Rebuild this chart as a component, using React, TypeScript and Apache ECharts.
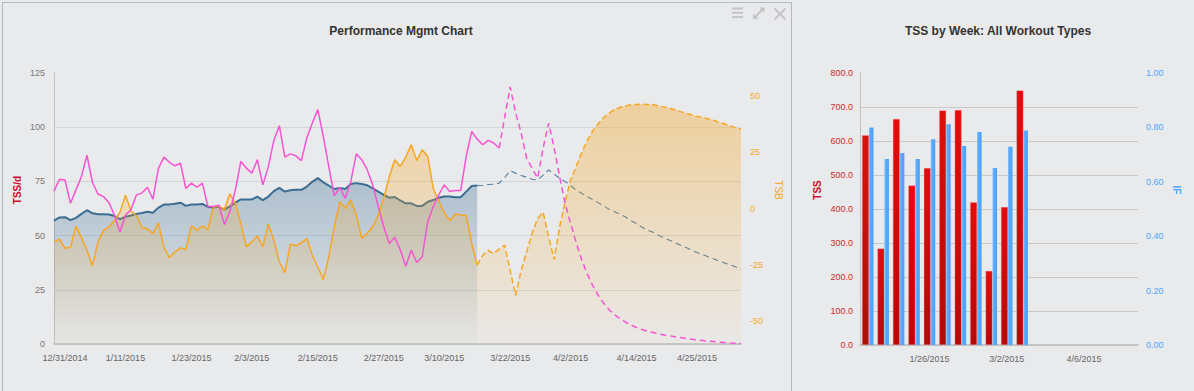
import React, { useEffect, useRef } from 'react';
import * as echarts from 'echarts';

// ---------- Performance Mgmt Chart data (daily, starting 12/29/2014) ----------
const START_YEAR = 2014;
const START_MONTH = 11; // December (0-based)
const START_DAY = 29;
const DAY_COUNT = 126;

const fmtDate = (d: Date) => `${d.getMonth() + 1}/${d.getDate()}/${d.getFullYear()}`;
const days: string[] = [];
for (let i = 0; i < DAY_COUNT; i++) {
  days.push(fmtDate(new Date(START_YEAR, START_MONTH, START_DAY + i)));
}

const dayTickLabels = [
  '12/31/2014', '1/11/2015', '1/23/2015', '2/3/2015', '2/15/2015', '2/27/2015',
  '3/10/2015', '3/22/2015', '4/2/2015', '4/14/2015', '4/25/2015',
];

// Fitness (CTL) – TSS/d
const ctl = [
  56.9, 58.4, 58.5, 57.1, 58.2, 60.0, 61.7, 60.3, 59.8, 59.8,
  59.7, 59.0, 57.6, 58.7, 59.3, 60.0, 60.4, 61.0, 60.5, 62.9,
  64.3, 64.4, 64.7, 65.2, 63.7, 64.3, 64.3, 64.6, 63.2, 63.0,
  63.3, 62.0, 63.5, 65.2, 66.7, 66.7, 66.7, 68.0, 66.4, 68.0,
  70.5, 72.0, 70.3, 70.9, 71.1, 71.1, 72.6, 74.8, 76.5, 74.6,
  73.1, 71.5, 72.0, 71.5, 73.8, 74.2, 73.8, 73.2, 71.8, 70.3,
  68.8, 67.5, 67.8, 66.2, 64.9, 64.9, 63.7, 63.7, 65.6, 66.4,
  67.5, 68.0, 68.0, 67.7, 67.7, 70.3, 72.9, 73.1, 73.2, 73.6,
  73.7, 74.2, 76.8, 79.9, 78.8, 77.7, 76.9, 76.0, 75.6, 77.9,
  80.3, 78.3, 76.5, 74.9, 73.1, 71.0, 69.5, 68.0, 66.7, 65.2,
  63.7, 62.1, 61.0, 59.8, 58.6, 56.9, 55.5, 53.8, 52.5, 51.5,
  50.2, 49.0, 47.9, 46.7, 45.6, 44.5, 43.3, 42.2, 41.3, 40.2,
  39.3, 38.3, 37.4, 36.5, 35.6, 34.4,
];

// Fatigue (ATL) – TSS/d
const atl = [
  70.5, 76.0, 75.7, 64.9, 71.1, 77.3, 87.1, 74.5, 69.2, 68.0,
  65.2, 59.4, 51.5, 59.5, 61.9, 68.8, 69.6, 72.3, 66.8, 81.0,
  86.2, 83.8, 82.2, 83.4, 71.7, 74.2, 72.3, 74.2, 63.4, 63.4,
  64.0, 55.1, 61.0, 71.1, 84.2, 81.1, 78.8, 85.0, 73.4, 81.8,
  93.9, 100.7, 86.2, 87.7, 86.8, 84.6, 95.0, 101.9, 108.1, 95.7,
  81.8, 68.3, 72.2, 67.2, 74.9, 87.7, 85.0, 80.3, 73.4, 63.3,
  54.1, 46.4, 49.2, 43.5, 35.9, 43.3, 37.6, 40.2, 56.4, 63.3,
  68.8, 73.4, 70.3, 70.8, 70.8, 86.5, 98.1, 94.5, 91.9, 93.9,
  92.7, 90.4, 104.5, 118.6, 106.6, 97.3, 85.7, 81.1, 76.5, 90.4,
  101.9, 90.4, 77.2, 64.9, 55.6, 46.8, 39.0, 32.5, 27.1, 22.5,
  18.9, 15.8, 13.5, 11.7, 10.1, 8.7, 7.6, 6.7, 5.9, 5.3,
  4.7, 4.2, 3.8, 3.3, 3.0, 2.5, 2.2, 1.9, 1.6, 1.3,
  1.2, 0.8, 0.7, 0.5, 0.4, 0.2,
];

// Form (TSB)
const tsb = [
  -14.8, -13.6, -17.6, -17.1, -7.8, -13.0, -18.5, -25.3, -14.8, -9.7,
  -8.1, -5.4, -1.6, 5.9, -1.0, -3.2, -8.4, -9.0, -11.0, -6.3,
  -17.4, -21.7, -19.2, -17.4, -18.2, -7.6, -9.7, -7.8, -9.3, 0.5,
  1.1, -0.4, 6.5, 2.3, -6.6, -17.0, -14.8, -12.2, -17.0, -6.9,
  -14.0, -23.7, -28.4, -15.8, -16.5, -15.2, -13.3, -20.7, -25.9, -31.5,
  -21.4, -8.1, 3.0, 0.1, 3.8, -2.9, -13.3, -11.0, -8.1, -2.9,
  4.5, 14.1, 21.6, 18.6, 22.8, 28.2, 21.3, 26.0, 23.0, 9.0,
  3.3, -1.9, -5.4, -2.4, -2.9, -3.0, -15.5, -25.1, -20.7, -18.6,
  -20.0, -18.0, -16.2, -27.4, -38.6, -27.4, -19.2, -11.0, -4.4, -1.7,
  -12.5, -22.6, -8.1, 3.0, 12.7, 18.5, 24.6, 30.0, 34.2, 37.5,
  40.1, 42.2, 43.8, 44.8, 45.4, 45.9, 46.1, 46.2, 46.1, 45.9,
  45.4, 45.0, 44.4, 43.7, 42.9, 42.2, 41.5, 40.8, 40.3, 39.7,
  39.1, 38.2, 37.5, 36.6, 35.8, 35.2,
];

const CTL_LAST_ACTUAL = 77;
const TSB_LAST_ACTUAL = 77;
const ATL_LAST_ACTUAL = 81;

const tssAxisTicks = [0, 25, 50, 75, 100, 125];
const tsbAxisTicks = [-50, -25, 0, 25, 50];

// ---------- TSS by Week data ----------
const WEEK_COUNT = 18;
const weeks: string[] = [];
for (let i = 0; i < WEEK_COUNT; i++) {
  weeks.push(fmtDate(new Date(START_YEAR, START_MONTH, START_DAY + i * 7)));
}
const weekTickLabels = ['1/26/2015', '3/2/2015', '4/6/2015'];
const weeklyTss = [617, 284, 665, 469, 521, 690, 691, 420, 218, 406, 749];
const weeklyIf = [0.80, 0.684, 0.706, 0.684, 0.756, 0.812, 0.732, 0.783, 0.651, 0.729, 0.789];

const FONT = '"Liberation Sans", Arial, Helvetica, sans-serif';
const BG = '#e9eaec';

const solidPart = (arr: number[], last: number) => arr.map((v, i) => (i <= last ? v : null));
const dashedPart = (arr: number[], last: number) => arr.map((v, i) => (i >= last ? v : null));

export default function App() {
  const ref = useRef<HTMLDivElement>(null);

  useEffect(() => {
    if (!ref.current) return;
    const chart = echarts.init(ref.current, undefined, { renderer: 'svg' });

    const gridTop = 73;
    const gridBottomY = 344;

    const blueFill = new echarts.graphic.LinearGradient(0, gridTop, 0, gridBottomY, [
      { offset: 0, color: 'rgba(59,109,147,0.55)' },
      { offset: 1, color: 'rgba(59,109,147,0.02)' },
    ], true);
    const orangeFill = () => new echarts.graphic.LinearGradient(0, gridTop, 0, gridBottomY, [
      { offset: 0, color: 'rgba(246,166,35,0.44)' },
      { offset: 1, color: 'rgba(246,166,35,0.03)' },
    ], true);
    const redBar = new echarts.graphic.LinearGradient(0, 0, 0, 1, [
      { offset: 0, color: '#e40c0c' },
      { offset: 1, color: '#b50909' },
    ]);
    const blueBar = new echarts.graphic.LinearGradient(0, 0, 1, 0, [
      { offset: 0, color: '#7cc0ff' },
      { offset: 0.35, color: '#57aaff' },
      { offset: 1, color: '#4a9ff5' },
    ]);

    const labelStyle = { color: '#666', fontSize: 9, fontFamily: FONT };
    const iconColor = '#c3c4c6';

    chart.setOption({
      animation: false,
      backgroundColor: BG,
      textStyle: { fontFamily: FONT },
      title: [
        {
          text: 'Performance Mgmt Chart',
          left: 396,
          top: 20,
          textAlign: 'center',
          textStyle: { fontSize: 12, fontWeight: 'bold', color: '#333', fontFamily: FONT },
        },
        {
          text: 'TSS by Week: All Workout Types',
          left: 993,
          top: 20,
          textAlign: 'center',
          textStyle: { fontSize: 12, fontWeight: 'bold', color: '#333', fontFamily: FONT },
        },
      ],
      grid: [
        { left: 54, width: 687, top: gridTop, height: gridBottomY - gridTop },
        { left: 860, width: 278, top: gridTop, height: 272 },
      ],
      xAxis: [
        {
          type: 'category',
          gridIndex: 0,
          data: days,
          boundaryGap: false,
          axisTick: { show: false },
          axisLine: { lineStyle: { color: '#bdbdbd', width: 1.5 } },
          axisLabel: {
            ...labelStyle,
            margin: 9,
            interval: (_i: number, v: string) => dayTickLabels.includes(v),
          },
          splitLine: { show: false },
        },
        {
          type: 'category',
          gridIndex: 1,
          data: weeks,
          boundaryGap: true,
          axisTick: { show: false },
          axisLine: { lineStyle: { color: '#bdbdbd', width: 1.5 } },
          axisLabel: {
            ...labelStyle,
            margin: 9,
            interval: (_i: number, v: string) => weekTickLabels.includes(v),
          },
        },
      ],
      yAxis: [
        {
          type: 'value',
          gridIndex: 0,
          min: tssAxisTicks[0],
          max: tssAxisTicks[tssAxisTicks.length - 1],
          interval: 25,
          axisLine: { show: true, lineStyle: { color: '#c2c2c2' } },
          axisTick: { show: false },
          axisLabel: { color: '#777', fontSize: 9, fontFamily: FONT, margin: 9 },
          splitLine: { show: true, showMaxLine: false, lineStyle: { color: '#d4d5d7' } },
        },
        {
          type: 'value',
          gridIndex: 0,
          position: 'right',
          min: -60,
          max: 60,
          axisLine: { show: false },
          axisTick: { show: false },
          axisLabel: {
            color: '#f6a623',
            fontSize: 9,
            fontFamily: FONT,
            margin: 9,
            customValues: tsbAxisTicks,
          },
          splitLine: { show: false },
        },
        {
          type: 'value',
          gridIndex: 1,
          min: 0,
          max: 800,
          interval: 100,
          axisLine: { show: true, lineStyle: { color: '#c2c2c2' } },
          axisTick: { show: false },
          axisLabel: {
            color: '#cf2a2a',
            fontSize: 9,
            fontFamily: FONT,
            margin: 7,
            formatter: (v: number) => v.toFixed(1),
          },
          splitLine: { show: true, showMaxLine: false, lineStyle: { color: '#c9c9c9' } },
        },
        {
          type: 'value',
          gridIndex: 1,
          position: 'right',
          min: 0,
          max: 1,
          interval: 0.2,
          axisLine: { show: false },
          axisTick: { show: false },
          axisLabel: {
            color: '#4da6ff',
            fontSize: 9,
            fontFamily: FONT,
            margin: 8,
            formatter: (v: number) => v.toFixed(2),
          },
          splitLine: { show: false },
        },
      ],
      series: [
        {
          name: 'CTL',
          type: 'line',
          z: 1,
          xAxisIndex: 0,
          yAxisIndex: 0,
          data: solidPart(ctl, CTL_LAST_ACTUAL),
          symbol: 'none',
          lineStyle: { color: '#3b6d93', width: 2 },
          areaStyle: { color: blueFill, opacity: 1 },
        },
        {
          name: 'CTL planned',
          type: 'line',
          z: 1,
          xAxisIndex: 0,
          yAxisIndex: 0,
          data: dashedPart(ctl, CTL_LAST_ACTUAL),
          symbol: 'none',
          lineStyle: { color: '#4f7a9d', width: 1.1, type: [6, 4] },
        },
        {
          name: 'TSB',
          type: 'line',
          z: 2,
          xAxisIndex: 0,
          yAxisIndex: 1,
          data: solidPart(tsb, TSB_LAST_ACTUAL),
          symbol: 'none',
          lineStyle: { color: '#f6a623', width: 1.5 },
          areaStyle: { color: orangeFill(), origin: 'start', opacity: 1 },
        },
        {
          name: 'TSB planned',
          type: 'line',
          z: 2,
          xAxisIndex: 0,
          yAxisIndex: 1,
          data: dashedPart(tsb, TSB_LAST_ACTUAL),
          symbol: 'none',
          lineStyle: { color: '#f6a623', width: 1.5, type: [6, 3] },
          areaStyle: { color: orangeFill(), origin: 'start', opacity: 1 },
        },
        {
          name: 'ATL',
          type: 'line',
          z: 3,
          xAxisIndex: 0,
          yAxisIndex: 0,
          data: solidPart(atl, ATL_LAST_ACTUAL),
          symbol: 'none',
          lineStyle: { color: '#f553d2', width: 1.5 },
        },
        {
          name: 'ATL planned',
          type: 'line',
          z: 3,
          xAxisIndex: 0,
          yAxisIndex: 0,
          data: dashedPart(atl, ATL_LAST_ACTUAL),
          symbol: 'none',
          lineStyle: { color: '#f553d2', width: 1.5, type: [6, 4] },
        },
        {
          name: 'TSS',
          type: 'bar',
          xAxisIndex: 1,
          yAxisIndex: 2,
          data: weeklyTss,
          barWidth: 7,
          barGap: '0%',
          itemStyle: { color: redBar, borderColor: 'rgba(255,140,140,0.55)', borderWidth: 0.6 },
        },
        {
          name: 'IF',
          type: 'bar',
          xAxisIndex: 1,
          yAxisIndex: 3,
          data: weeklyIf,
          barWidth: 4.5,
          barGap: '0%',
          itemStyle: { color: blueBar },
        },
      ],
      graphic: [
        {
          type: 'rect',
          silent: true,
          shape: { x: 2.5, y: 2.5, width: 789, height: 420 },
          style: { fill: 'none', stroke: '#b7b8ba', lineWidth: 1 },
        },
        // toolbar icons
        { type: 'rect', silent: true, shape: { x: 732, y: 7.5, width: 11, height: 2 }, style: { fill: iconColor } },
        { type: 'rect', silent: true, shape: { x: 732, y: 11.8, width: 11, height: 2 }, style: { fill: iconColor } },
        { type: 'rect', silent: true, shape: { x: 732, y: 16.1, width: 11, height: 2 }, style: { fill: iconColor } },
        { type: 'line', silent: true, shape: { x1: 755, y1: 17, x2: 762, y2: 10 }, style: { stroke: iconColor, lineWidth: 2 } },
        { type: 'polygon', silent: true, shape: { points: [[753, 19], [753, 13.5], [758.5, 19]] }, style: { fill: iconColor } },
        { type: 'polygon', silent: true, shape: { points: [[764.5, 7.5], [764.5, 13], [759, 7.5]] }, style: { fill: iconColor } },
        { type: 'line', silent: true, shape: { x1: 774.5, y1: 8.5, x2: 785.5, y2: 19.5 }, style: { stroke: iconColor, lineWidth: 2 } },
        { type: 'line', silent: true, shape: { x1: 785.5, y1: 8.5, x2: 774.5, y2: 19.5 }, style: { stroke: iconColor, lineWidth: 2 } },
        // axis names
        {
          type: 'text', silent: true, x: 17, y: 190, rotation: Math.PI / 2,
          style: { text: 'TSS/d', fill: '#c8102e', font: `bold 10px ${FONT}`, textAlign: 'center', textVerticalAlign: 'middle' },
        },
        {
          type: 'text', silent: true, x: 778, y: 190, rotation: -Math.PI / 2,
          style: { text: 'TSB', fill: '#f6a623', font: `10px ${FONT}`, textAlign: 'center', textVerticalAlign: 'middle' },
        },
        {
          type: 'text', silent: true, x: 817, y: 190, rotation: Math.PI / 2,
          style: { text: 'TSS', fill: '#c8102e', font: `bold 10px ${FONT}`, textAlign: 'center', textVerticalAlign: 'middle' },
        },
        {
          type: 'text', silent: true, x: 1176, y: 190, rotation: -Math.PI / 2,
          style: { text: 'IF', fill: '#4da6ff', font: `bold 10px ${FONT}`, textAlign: 'center', textVerticalAlign: 'middle' },
        },
      ],
    });

    return () => chart.dispose();
  }, []);

  return (
    <div
      ref={ref}
      style={{ position: 'absolute', left: 0, top: 0, width: 1194, height: 391, background: BG }}
    />
  );
}
